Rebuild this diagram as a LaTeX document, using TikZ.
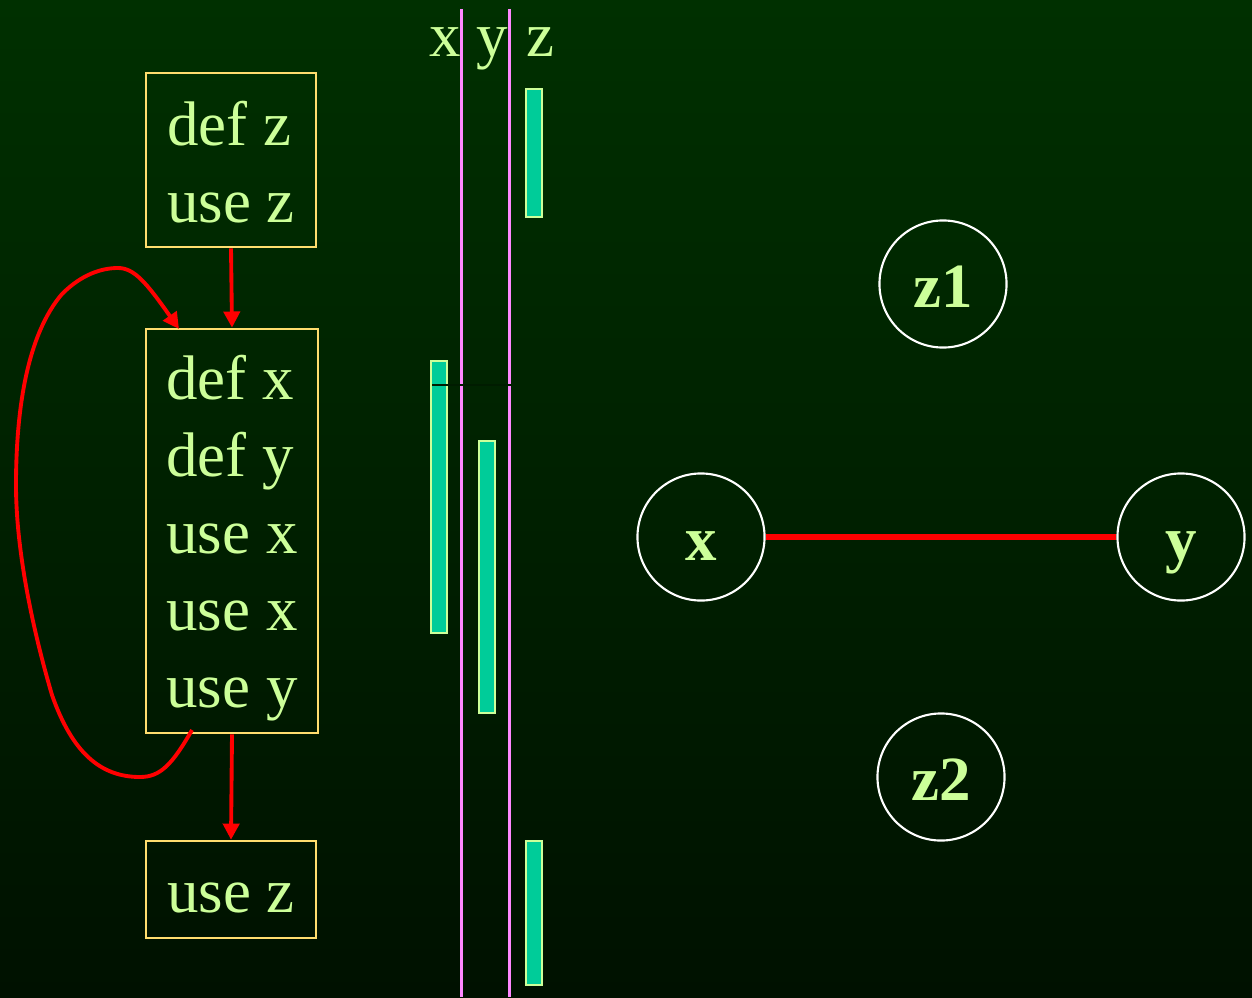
\documentclass[tikz,border=0pt]{standalone}
\usepackage{fontspec}
\setmainfont{Liberation Serif}
\usetikzlibrary{arrows.meta}
\definecolor{bgtop}{RGB}{0,48,0}
\definecolor{bgbot}{RGB}{0,17,0}
\definecolor{txt}{RGB}{204,255,153}
\definecolor{boxline}{RGB}{255,221,110}
\definecolor{barfill}{RGB}{0,204,153}
\definecolor{magline}{RGB}{255,136,255}
\definecolor{cutline}{RGB}{0,28,0}
\begin{document}
\begin{tikzpicture}[x=0.01cm,y=-0.01cm,
  codebox/.style={draw=boxline,line width=0.7pt,text=txt,align=left,inner sep=0pt,
    font=\fontsize{17.9pt}{21.9pt}\selectfont},
  varlabel/.style={text=txt,anchor=base,inner sep=0pt,font=\fontsize{17.9pt}{21.9pt}\selectfont},
  flow/.style={draw=red,line width=1.1pt,-{Triangle[length=4.6pt,width=4.6pt]}},
  live/.style={fill=barfill,draw=txt,line width=0.6pt},
  timeline/.style={draw=magline,line width=0.85pt},
  regnode/.style={circle,draw=white,line width=0.6pt,
    minimum size=1.27cm,inner sep=0pt,text=txt,text height=13.1pt,text depth=0pt,
    font=\fontsize{17.9pt}{21.9pt}\selectfont\bfseries},
  conflict/.style={draw=red,line width=1.7pt}]
\shade[top color=bgtop,bottom color=bgbot] (0,0) rectangle (1252,997);
\useasboundingbox (0,0) rectangle (1252,997);

% code boxes
\node[codebox,minimum width=1.70cm,minimum height=1.74cm] (b1) at (231,160) {\rule{0pt}{13.6pt}def z\\use z};
\node[codebox,minimum width=1.72cm,minimum height=4.04cm] (b2) at (232,531) {\rule{0pt}{16.4pt}def x\\def y\\use x\\use x\\use y};
\node[codebox,minimum width=1.70cm,minimum height=0.97cm,text height=12.8pt,text depth=0pt] (b3) at (231,889.5) {use z};

\draw[flow] (b1.south) -- (b2.north);
\draw[flow] (b2.south) -- (b3.north);

\coordinate (ls) at (192,730);
\coordinate (le) at (179,329);
\draw[flow] (ls) .. controls (172,765) and (160,777) .. (140,777)
  .. controls (100,777) and (72,752) .. (52,695)
  .. controls (30,620) and (16,545) .. (16,485)
  .. controls (16,410) and (27,335) .. (62,294)
  .. controls (82,274) and (102,268) .. (118,268)
  .. controls (134,268) and (146,282) .. (le);

% timelines
\draw[timeline] (461,9) coordinate (tl1) -- (461,997);
\draw[timeline] (509,9) coordinate (tl2) -- (509,997);

\node[varlabel] (lx) at (445,57) {x};
\node[varlabel] (ly) at (492,57) {y};
\node[varlabel] (lz) at (540,57) {z};

% live ranges
\draw[live] (526,89) rectangle (542,217);
\draw[live] (431,361) rectangle (447,633);
\draw[live] (479,441) rectangle (495,713);
\draw[live] (526,841) rectangle (542,985);
\draw[cutline,line width=0.3pt] (432,385) -- (512,385);

% interference graph
\node[regnode] (z1) at (943,284) {z1};
\node[regnode] (x) at (701,537) {x};
\node[regnode] (y) at (1181,537) {y};
\node[regnode] (z2) at (941,777) {z2};
\draw[conflict] (x) -- (y);
\end{tikzpicture}
\end{document}
